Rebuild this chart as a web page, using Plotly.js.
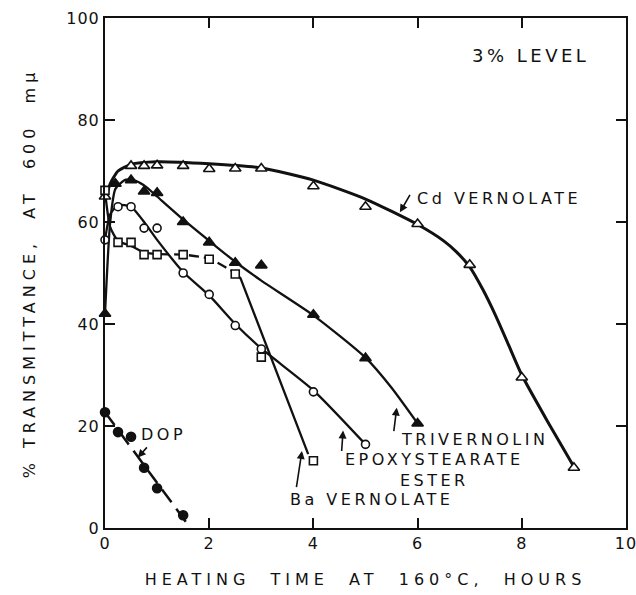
<!DOCTYPE html>
<html>
<head>
<meta charset="utf-8">
<script src="https://cdn.plot.ly/plotly-3.0.1.min.js"></script>
<style>
  html, body { margin: 0; padding: 0; background: #fff; }
  .xtitle { letter-spacing: 5px; }
  .ytitle { letter-spacing: 5px; }
  .annotation-text { letter-spacing: 3.5px; }
  .xtick text, .ytick text { letter-spacing: 1px; }
</style>
</head>
<body>
<div id="chart" style="width:636px;height:595px;"></div>
<script>
// ---- measured points ----
const cdX = [0, 0.5, 0.75, 1, 1.5, 2, 2.5, 3, 4, 5, 6, 7, 8, 9];
const cdY = [65, 71, 71, 71.1, 71, 70.4, 70.5, 70.5, 67, 63, 59.6, 51.6, 29.5, 11.8];

const triX = [0, 0.2, 0.5, 0.75, 1, 1.5, 2, 2.5, 3, 4, 5, 6];
const triY = [42, 67.5, 68.2, 66, 65.7, 60, 56, 52, 51.5, 41.8, 33.3, 20.5];

const epoX = [0, 0.25, 0.5, 0.75, 1, 1.5, 2, 2.5, 3, 4, 5];
const epoY = [56.5, 63, 63, 58.8, 58.8, 50, 45.8, 39.7, 35.1, 26.7, 16.4];

const baX = [0, 0.25, 0.5, 0.75, 1, 1.5, 2, 2.5, 3, 4];
const baY = [66.2, 56, 56, 53.6, 53.6, 53.6, 52.7, 49.8, 33.5, 13.2];

const dopX = [0, 0.25, 0.5, 0.75, 1, 1.5];
const dopY = [22.7, 18.8, 17.9, 11.8, 7.8, 2.5];

// ---- hand-drawn fitted curves ----
const cdFitX = [0, 0.1, 0.25, 0.5, 1, 2, 3, 4, 5, 6, 6.5, 6.75, 7, 7.25, 7.5, 7.75, 8, 8.5, 9];
const cdFitY = [64, 67.5, 70, 71.3, 71.8, 71.4, 70.6, 68.2, 64.5, 59.5, 56.3, 54.1, 51.2, 46.8, 41.6, 35.8, 30, 20.8, 12];

const triFitX = [0, 0.1, 0.2, 0.4, 0.6, 0.8, 1, 1.5, 2, 2.5, 3, 4, 5, 5.5, 6];
const triFitY = [42, 60, 66.5, 68.3, 68, 66.8, 65, 60.5, 56.3, 52.2, 48.5, 41.7, 33.4, 27.5, 20.5];

const epoFitX = [0, 0.1, 0.25, 0.5, 0.75, 1, 1.5, 2, 2.5, 3, 4, 5];
const epoFitY = [56.5, 61.5, 63.3, 63, 60, 56.5, 50.2, 45.6, 40, 35.2, 27, 16.4];

const baFitAX = [0, 0.1, 0.25, 0.5, 0.75];
const baFitAY = [66, 59, 56.3, 55.3, 54];
const baFitBX = [0.75, 1, 1.5, 2, 2.5];
const baFitBY = [54, 53.7, 53.6, 52.8, 50];
const baFitCX = [2.5, 2.6, 3.9];
const baFitCY = [50, 49, 14.5];

const dopFitX = [0, 1.64];
const dopFitY = [22.7, 0];

// ---- labels ----
const xTicks = [0, 2, 4, 6, 8, 10];
const yTicks = [0, 20, 40, 60, 80, 100];
const labels = [
  {text: '3% LEVEL', x: 8.16, y: 92.7, anchor: 'center', size: 18},
  {text: 'Cd VERNOLATE', x: 5.95, y: 64.6, anchor: 'left', size: 16},
  {text: 'TRIVERNOLIN', x: 5.64, y: 17.3, anchor: 'left', size: 16},
  {text: 'EPOXYSTEARATE<br>ESTER', x: 6.32, y: 11.4, anchor: 'center', size: 16},
  {text: 'Ba VERNOLATE', x: 5.12, y: 5.5, anchor: 'center', size: 16},
  {text: 'DOP', x: 1.13, y: 18.3, anchor: 'center', size: 16}
];
// arrows: [tailX, tailY, headX, headY]
const arrows = [
  [5.87, 65.6, 5.66, 61.9],
  [5.54, 18.7, 5.60, 23.6],
  [4.54, 14.8, 4.57, 19.1],
  [3.67, 7.7, 3.78, 15.1],
  [0.83, 16.1, 0.63, 13.8]
];

const font = 'DejaVu Sans, Arial, sans-serif';
const blk = '#111';

function curve(x, y, w, dash, shape) {
  return {x: x, y: y, mode: 'lines', type: 'scatter', hoverinfo: 'skip',
    line: {color: blk, width: w, dash: dash || 'solid', shape: shape || 'spline', smoothing: 0.6}};
}
function pts(x, y, sym, fill, size) {
  return {x: x, y: y, mode: 'markers', type: 'scatter', cliponaxis: false,
    marker: {symbol: sym, size: size, color: fill, line: {color: blk, width: 1.6}}};
}

const traces = [
  curve(cdFitX, cdFitY, 3),
  curve(triFitX, triFitY, 2.3),
  curve(epoFitX, epoFitY, 2.3),
  curve(baFitAX, baFitAY, 2.3),
  curve(baFitBX, baFitBY, 2.3, '10px,5px'),
  curve(baFitCX, baFitCY, 2.3, 'solid', 'linear'),
  curve(dopFitX, dopFitY, 2.5, '16px,8px', 'linear'),
  pts(cdX, cdY, 'triangle-up', '#fff', 10),
  pts(triX, triY, 'triangle-up', blk, 10),
  pts(epoX, epoY, 'circle', '#fff', 8),
  pts(baX, baY, 'square', '#fff', 8),
  pts(dopX, dopY, 'circle', blk, 9)
];

const annotations = labels.map(l => ({
  text: l.text, x: l.x, y: l.y, xref: 'x', yref: 'y', showarrow: false,
  xanchor: l.anchor, yanchor: 'middle', align: 'center',
  font: {family: font, size: l.size, color: blk}
})).concat(arrows.map(a => ({
  text: '', x: a[2], y: a[3], ax: a[0], ay: a[1], xref: 'x', yref: 'y',
  axref: 'x', ayref: 'y', showarrow: true, arrowhead: 2, arrowsize: 1,
  arrowwidth: 1.6, arrowcolor: blk, standoff: 0
})));

const layout = {
  width: 636, height: 595,
  margin: {l: 105, r: 10, t: 18, b: 67},
  paper_bgcolor: '#fff', plot_bgcolor: '#fff',
  showlegend: false,
  font: {family: font, color: blk},
  xaxis: {
    range: [0, 10], tickvals: xTicks, ticktext: xTicks.map(String),
    ticks: 'inside', ticklen: 10, tickwidth: 2, tickcolor: blk,
    showline: true, linewidth: 2, linecolor: blk, mirror: 'ticks',
    showgrid: false, zeroline: false, ticklabeloverflow: 'allow',
    tickfont: {family: font, size: 16, color: blk},
    title: {text: 'HEATING  TIME  AT  160°C,  HOURS', font: {family: font, size: 16, color: blk}, standoff: 22}
  },
  yaxis: {
    range: [0, 100], tickvals: yTicks, ticktext: yTicks.map(String),
    ticks: 'inside', ticklen: 10, tickwidth: 2, tickcolor: blk,
    showline: true, linewidth: 2, linecolor: blk, mirror: 'ticks',
    showgrid: false, zeroline: false, ticklabeloverflow: 'allow',
    tickfont: {family: font, size: 16, color: blk},
    title: {text: '% TRANSMITTANCE,  AT  600  mμ', font: {family: font, size: 16, color: blk}, standoff: 27}
  },
  annotations: annotations
};

Plotly.newPlot('chart', traces, layout, {displayModeBar: false, staticPlot: true});
</script>
</body>
</html>
